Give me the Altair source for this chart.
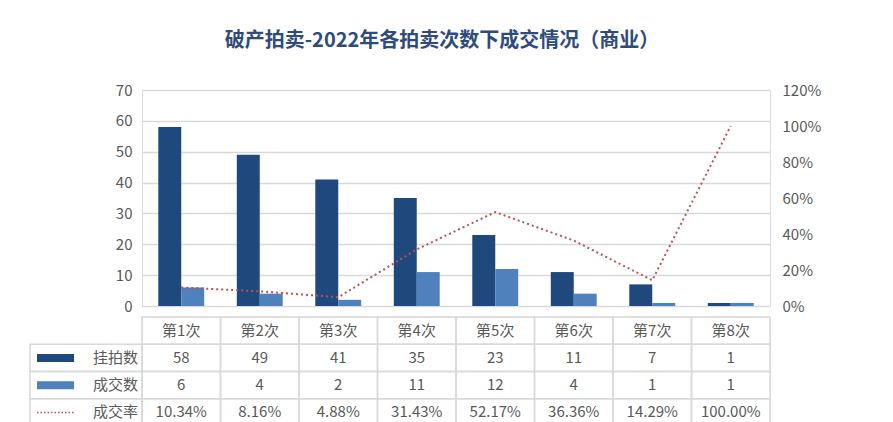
import altair as alt
import pandas as pd

categories = ["第1次", "第2次", "第3次", "第4次", "第5次", "第6次", "第7次", "第8次"]
listed = [58, 49, 41, 35, 23, 11, 7, 1]
deals = [6, 4, 2, 11, 12, 4, 1, 1]
rate = [0.1034, 0.0816, 0.0488, 0.3143, 0.5217, 0.3636, 0.1429, 1.0]
rate_labels = ["10.34%", "8.16%", "4.88%", "31.43%", "52.17%", "36.36%", "14.29%", "100.00%"]
series = ["挂拍数", "成交数", "成交率"]

DARK = "#1F497D"
LIGHT = "#4F81BD"
RED = "#C0504D"
GRID = "#D9D9D9"
TXT = "#595959"
FONT = "Noto Sans CJK SC"

bars = pd.DataFrame(
    [{"cat": c, "series": series[0], "v": a} for c, a in zip(categories, listed)]
    + [{"cat": c, "series": series[1], "v": b} for c, b in zip(categories, deals)]
)
line_df = pd.DataFrame({"cat": categories, "rate": rate})

W = 628
H = 216

xs = alt.Scale(domain=categories, paddingInner=0, paddingOuter=0)

bar = alt.Chart(bars).mark_bar().encode(
    x=alt.X("cat:N", scale=xs, axis=None, sort=categories),
    xOffset=alt.XOffset("series:N", scale=alt.Scale(domain=series[:2], paddingInner=0, paddingOuter=0.71)),
    y=alt.Y("v:Q", scale=alt.Scale(domain=[0, 70]),
            axis=alt.Axis(values=list(range(0, 71, 10)), ticks=False, domain=False,
                          gridColor=GRID, gridWidth=1.5, labelPadding=10,
                          labelFontSize=15, labelColor=TXT, labelFont=FONT, title=None)),
    color=alt.Color("series:N", scale=alt.Scale(domain=series[:2], range=[DARK, LIGHT]), legend=None),
)

line = alt.Chart(line_df).mark_line(color=RED, strokeDash=[2, 3], strokeWidth=2).encode(
    x=alt.X("cat:N", scale=xs, axis=None, sort=categories),
    y=alt.Y("rate:Q", scale=alt.Scale(domain=[0, 1.2]),
            axis=alt.Axis(orient="right", values=[0, 0.2, 0.4, 0.6, 0.8, 1.0, 1.2], format=".0%",
                          ticks=False, domain=False, grid=False, labelPadding=12,
                          labelFontSize=15, labelColor=TXT, labelFont=FONT, title=None)),
)

top = alt.layer(bar, line).resolve_scale(y="independent").properties(width=W, height=H)

# table
rows = ["header"] + series
cells = []
for i, c in enumerate(categories):
    cells.append({"cat": c, "row": "header", "label": c})
    cells.append({"cat": c, "row": series[0], "label": str(listed[i])})
    cells.append({"cat": c, "row": series[1], "label": str(deals[i])})
    cells.append({"cat": c, "row": series[2], "label": rate_labels[i]})
cell_df = pd.DataFrame(cells)
leg_df = pd.DataFrame({"row": series})

ys = alt.Scale(domain=rows, paddingInner=0, paddingOuter=0)
TH = 109

grid = alt.Chart(cell_df).mark_rect(fill=None, stroke=GRID, strokeWidth=1.5).encode(
    x=alt.X("cat:N", scale=xs, axis=None, sort=categories),
    y=alt.Y("row:N", scale=ys, axis=None, sort=rows),
)
txt = alt.Chart(cell_df).mark_text(fontSize=15, color=TXT, font=FONT).encode(
    x=alt.X("cat:N", scale=xs, axis=None, sort=categories),
    y=alt.Y("row:N", scale=ys, axis=None, sort=rows),
    text="label:N",
)
leg_cell = alt.Chart(leg_df).mark_rect(fill=None, stroke=GRID, strokeWidth=1.5).encode(
    x=alt.value(-112), x2=alt.value(0),
    y=alt.Y("row:N", scale=ys, axis=None, sort=rows),
)
leg_txt = alt.Chart(leg_df).mark_text(fontSize=15, color=TXT, font=FONT, align="right").encode(
    x=alt.value(-4),
    y=alt.Y("row:N", scale=ys, axis=None, sort=rows),
    text="row:N",
)
leg_sw = alt.Chart(leg_df[leg_df["row"] != series[2]]).mark_rule(strokeWidth=8).encode(
    x=alt.value(-105), x2=alt.value(-68),
    y=alt.Y("row:N", scale=ys, axis=None, sort=rows),
    color=alt.Color("row:N", scale=alt.Scale(domain=series[:2], range=[DARK, LIGHT]), legend=None),
)
leg_ln = alt.Chart(leg_df[leg_df["row"] == series[2]]).mark_rule(color=RED, strokeWidth=1.5, strokeDash=[1.5, 2]).encode(
    x=alt.value(-105), x2=alt.value(-68),
    y=alt.Y("row:N", scale=ys, axis=None, sort=rows),
)

table = alt.layer(grid, txt, leg_cell, leg_txt, leg_sw, leg_ln).resolve_scale(color="independent").properties(width=W, height=TH)

chart = alt.vconcat(top, table, spacing=0).properties(
    title=alt.TitleParams(
        "破产拍卖-2022年各拍卖次数下成交情况（商业）",
        fontSize=20, font=FONT, fontWeight="bold", color="#2F4B7C",
        anchor="middle", offset=32, dx=17,
    ),
    padding={"left": 20, "top": 22, "right": 10, "bottom": 0},
).configure_view(stroke=None).configure(background="white")

chart.save("out.html", embed_options={"renderer": "svg", "actions": False})
